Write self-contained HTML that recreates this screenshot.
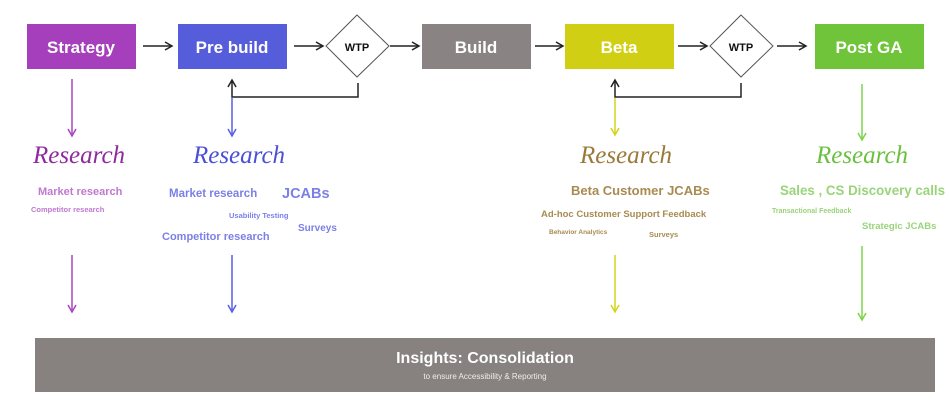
<!DOCTYPE html>
<html><head><meta charset="utf-8"><style>
html,body{margin:0;padding:0;background:#fff;width:949px;height:410px;overflow:hidden}
svg{display:block}
.b{font-family:"Liberation Sans",sans-serif;font-weight:bold;fill:#fff}
.s{font-family:"Liberation Serif",serif;font-style:italic;font-size:25px}
.t{font-family:"Liberation Sans",sans-serif;font-weight:bold}
</style></head><body>
<svg width="949" height="410" viewBox="0 0 949 410">
<defs>
<marker id="ak" markerWidth="10" markerHeight="10" refX="8" refY="5" orient="auto" markerUnits="userSpaceOnUse"><path d="M1,1 L8,5 L1,9" fill="none" stroke="#222" stroke-width="1.5"/></marker>
<marker id="ap" markerWidth="10" markerHeight="10" refX="8" refY="5" orient="auto" markerUnits="userSpaceOnUse"><path d="M1,1 L8,5 L1,9" fill="none" stroke="#a845be" stroke-width="1.5"/></marker>
<marker id="ab" markerWidth="10" markerHeight="10" refX="8" refY="5" orient="auto" markerUnits="userSpaceOnUse"><path d="M1,1 L8,5 L1,9" fill="none" stroke="#5a5fe0" stroke-width="1.5"/></marker>
<marker id="ay" markerWidth="10" markerHeight="10" refX="8" refY="5" orient="auto" markerUnits="userSpaceOnUse"><path d="M1,1 L8,5 L1,9" fill="none" stroke="#d4d41a" stroke-width="1.5"/></marker>
<marker id="ag" markerWidth="10" markerHeight="10" refX="8" refY="5" orient="auto" markerUnits="userSpaceOnUse"><path d="M1,1 L8,5 L1,9" fill="none" stroke="#7cd44a" stroke-width="1.5"/></marker>
</defs>
<rect x="27" y="24" width="109" height="45" fill="#a63fbc"/>
<text x="81" y="53" class="b" font-size="17" text-anchor="middle">Strategy</text>
<rect x="178" y="24" width="109" height="45" fill="#565ddb"/>
<text x="232" y="53" class="b" font-size="17" text-anchor="middle">Pre build</text>
<rect x="422" y="24" width="109" height="45" fill="#8a8383"/>
<text x="476" y="53" class="b" font-size="17" text-anchor="middle">Build</text>
<rect x="565" y="24" width="109" height="45" fill="#d1cf14"/>
<text x="619" y="53" class="b" font-size="17" text-anchor="middle">Beta</text>
<rect x="815" y="24" width="109" height="45" fill="#70c43a"/>
<text x="869" y="53" class="b" font-size="17" text-anchor="middle">Post GA</text>
<polygon points="357,15 389,46 357,77 326,46" fill="#fff" stroke="#555" stroke-width="1"/>
<text x="357" y="51" class="t" font-size="11" text-anchor="middle" fill="#111">WTP</text>
<polygon points="741,15 773,46 741,77 710,46" fill="#fff" stroke="#555" stroke-width="1"/>
<text x="741" y="51" class="t" font-size="11" text-anchor="middle" fill="#111">WTP</text>
<g stroke="#222" stroke-width="1.5" fill="none">
<line x1="143" y1="46" x2="172" y2="46" marker-end="url(#ak)"/>
<line x1="294" y1="46" x2="323" y2="46" marker-end="url(#ak)"/>
<line x1="390" y1="46" x2="419" y2="46" marker-end="url(#ak)"/>
<line x1="535" y1="46" x2="563" y2="46" marker-end="url(#ak)"/>
<line x1="678" y1="46" x2="707" y2="46" marker-end="url(#ak)"/>
<line x1="777" y1="46" x2="806" y2="46" marker-end="url(#ak)"/>
<polyline points="358,83 358,97 232,97 232,80" marker-end="url(#ak)"/>
<polyline points="741,83 741,97 615,97 615,80" marker-end="url(#ak)"/>
</g>
<g stroke-width="1.5" fill="none">
<line x1="72" y1="79" x2="72" y2="136" stroke="#a845be" marker-end="url(#ap)"/>
<line x1="232" y1="98" x2="232" y2="136" stroke="#5a5fe0" marker-end="url(#ab)"/>
<line x1="615" y1="98" x2="615" y2="135" stroke="#d4d41a" marker-end="url(#ay)"/>
<line x1="862" y1="84" x2="862" y2="140" stroke="#7cd44a" marker-end="url(#ag)"/>
<line x1="72" y1="255" x2="72" y2="312" stroke="#a845be" marker-end="url(#ap)"/>
<line x1="232" y1="255" x2="232" y2="312" stroke="#5a5fe0" marker-end="url(#ab)"/>
<line x1="615" y1="255" x2="615" y2="312" stroke="#d4d41a" marker-end="url(#ay)"/>
<line x1="862" y1="246" x2="862" y2="320" stroke="#7cd44a" marker-end="url(#ag)"/>
</g>
<text x="79" y="163" class="s" fill="#8e2a9e" text-anchor="middle">Research</text>
<text x="239" y="163" class="s" fill="#4a4fd6" text-anchor="middle">Research</text>
<text x="626" y="163" class="s" fill="#9a7a3a" text-anchor="middle">Research</text>
<text x="862" y="163" class="s" fill="#6cc040" text-anchor="middle">Research</text>
<g class="t" fill="#c078d0">
<text x="38" y="195" font-size="11">Market research</text>
<text x="31" y="212" font-size="7.5">Competitor research</text>
</g>
<g class="t" fill="#7b80e6">
<text x="169" y="197" font-size="11.5">Market research</text>
<text x="282" y="198" font-size="14.5">JCABs</text>
<text x="229" y="218" font-size="7.5">Usability Testing</text>
<text x="298" y="231" font-size="10">Surveys</text>
<text x="162" y="240" font-size="11">Competitor research</text>
</g>
<g class="t" fill="#a88b50">
<text x="571" y="195" font-size="13">Beta Customer JCABs</text>
<text x="541" y="217" font-size="9.5">Ad-hoc Customer Support Feedback</text>
<text x="549" y="234" font-size="6.5">Behavior Analytics</text>
<text x="649" y="237" font-size="7.5">Surveys</text>
</g>
<g class="t" fill="#9ad47a">
<text x="780" y="195" font-size="13.5" textLength="165" lengthAdjust="spacingAndGlyphs">Sales , CS Discovery calls</text>
<text x="772" y="213" font-size="7">Transactional  Feedback</text>
<text x="862" y="229" font-size="9.5">Strategic JCABs</text>
</g>
<rect x="35" y="338" width="900" height="54" fill="#878180"/>
<text x="485" y="363" class="b" font-size="16" text-anchor="middle">Insights: Consolidation</text>
<text x="485" y="379" font-family="Liberation Sans,sans-serif" font-size="8" fill="#eee" text-anchor="middle">to ensure Accessibility &amp; Reporting</text>
</svg>
</body></html>
